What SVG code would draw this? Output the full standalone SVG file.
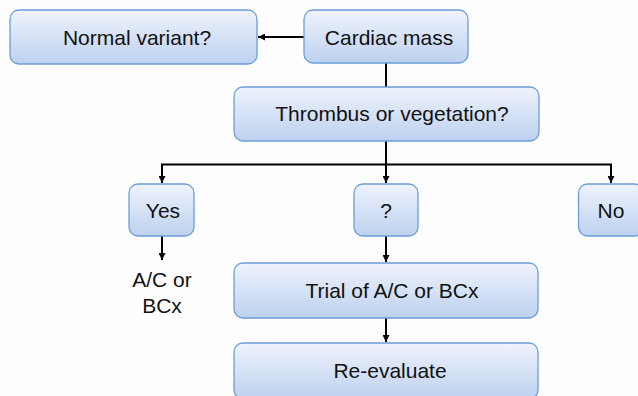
<svg xmlns="http://www.w3.org/2000/svg" width="638" height="396" viewBox="0 0 638 396">
<defs>
<linearGradient id="g" x1="0" y1="0" x2="0" y2="1">
<stop offset="0" stop-color="#eff3fc"/>
<stop offset="1" stop-color="#bdd1ef"/>
</linearGradient>
<marker id="ah" viewBox="0 0 10 10" refX="10" refY="5" markerWidth="7" markerHeight="7" markerUnits="userSpaceOnUse" orient="auto">
<path d="M0,0 L10,5 L0,10 z" fill="#000"/>
</marker>
<style>
.box{fill:url(#g);stroke:#6c9cd8;stroke-width:1.3}
.t{font-family:"Liberation Sans",Arial,sans-serif;font-size:21px;fill:#111;text-anchor:middle}
.c{fill:none;stroke:#000;stroke-width:2}
</style>
</defs>
<rect width="638" height="396" fill="#fefefe"/>
<g id="connectors">
<path class="c" d="M304,37 H258" marker-end="url(#ah)"/>
<path class="c" d="M386,63 V87"/>
<path class="c" d="M386,141 V183" marker-end="url(#ah)"/>
<path class="c" d="M162,183 V164.5 H611 V183" marker-end="url(#ah)"/>
<path class="c" d="M162,164.5 V183" marker-end="url(#ah)"/>
<path class="c" d="M162,236 V260" marker-end="url(#ah)"/>
<path class="c" d="M386,236 V262" marker-end="url(#ah)"/>
<path class="c" d="M386,318 V342" marker-end="url(#ah)"/>
</g>
<g id="normal">
<rect class="box" x="10" y="10" width="247" height="54" rx="9"/>
<text class="t" x="137" y="44.5">Normal variant?</text>
</g>
<g id="cardiac">
<rect class="box" x="304" y="10" width="164" height="53" rx="9"/>
<text class="t" x="389" y="44.5">Cardiac mass</text>
</g>
<g id="thrombus">
<rect class="box" x="234" y="87" width="305" height="54" rx="9"/>
<text class="t" x="392" y="121">Thrombus or vegetation?</text>
</g>
<g id="yes">
<rect class="box" x="129" y="184" width="65" height="52" rx="9"/>
<text class="t" x="163" y="217.5">Yes</text>
</g>
<g id="q">
<rect class="box" x="354" y="184" width="64" height="52" rx="9"/>
<text class="t" x="386" y="217.5">?</text>
</g>
<g id="no">
<rect class="box" x="578.5" y="184" width="65" height="52" rx="9"/>
<text class="t" x="611" y="217.5">No</text>
</g>
<g id="ac">
<text class="t" x="162" y="287">A/C or</text>
<text class="t" x="162" y="313">BCx</text>
</g>
<g id="trial">
<rect class="box" x="234" y="263" width="304" height="55" rx="9"/>
<text class="t" x="392" y="298">Trial of A/C or BCx</text>
</g>
<g id="reeval">
<rect class="box" x="234" y="343" width="304" height="56" rx="9"/>
<text class="t" x="390" y="378">Re-evaluate</text>
</g>
</svg>
